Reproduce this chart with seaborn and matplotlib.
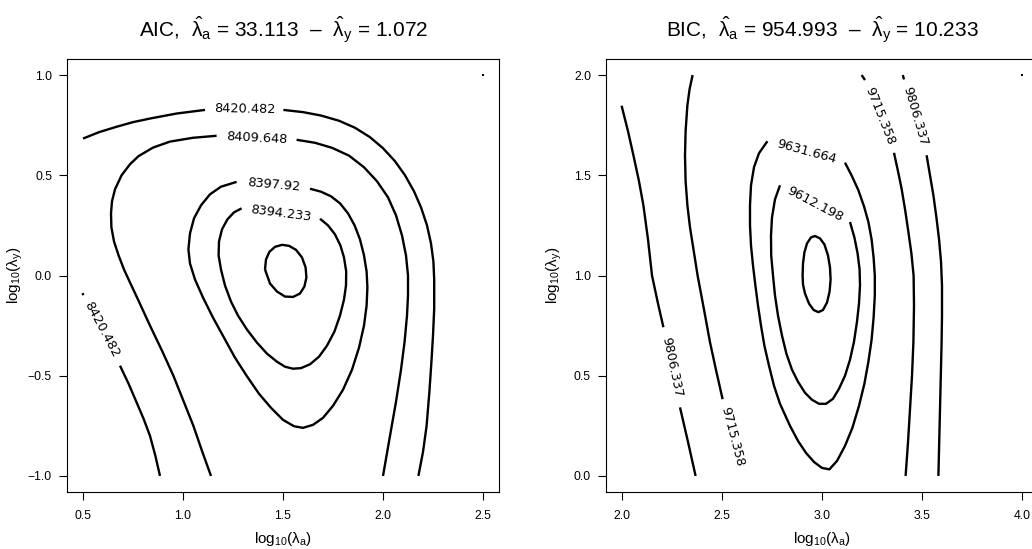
import matplotlib
matplotlib.use("Agg")
import matplotlib.pyplot as plt
import numpy as np
import pandas as pd
import seaborn as sns

# ---------------- data ----------------
# AIC panel: contour pieces, x = log10(lambda_a), y = log10(lambda_y)
aic_inner_x = [1.41, 1.415, 1.432, 1.46, 1.495, 1.53, 1.565, 1.595, 1.613, 1.617, 1.607, 1.585, 1.55,
               1.51, 1.47, 1.435, 1.41]
aic_inner_y = [0.03, 0.08, 0.118, 0.143, 0.153, 0.148, 0.128, 0.09, 0.04, -0.01, -0.055, -0.09, -0.107,
               -0.105, -0.08, -0.04, 0.03]

aic_8394_x = [1.685, 1.725, 1.76, 1.787, 1.805, 1.816, 1.815, 1.805, 1.785, 1.757, 1.72, 1.68, 1.635,
              1.59, 1.55, 1.51, 1.47, 1.42, 1.37, 1.32, 1.275, 1.24, 1.21, 1.19, 1.178, 1.18, 1.195,
              1.222, 1.255, 1.293]
aic_8394_y = [0.283, 0.25, 0.205, 0.15, 0.09, 0.02, -0.05, -0.12, -0.2, -0.28, -0.35, -0.405, -0.443,
              -0.462, -0.465, -0.455, -0.43, -0.39, -0.335, -0.27, -0.2, -0.13, -0.05, 0.03, 0.1, 0.17, 0.23,
              0.28, 0.315, 0.335]

aic_8398_x = [1.635, 1.69, 1.74, 1.785, 1.825, 1.858, 1.885, 1.905, 1.918, 1.922, 1.918, 1.905, 1.88,
              1.845, 1.8, 1.75, 1.7, 1.65, 1.6, 1.555, 1.5, 1.44, 1.38, 1.318, 1.26, 1.205, 1.15, 1.1,
              1.06, 1.035, 1.027, 1.035, 1.055, 1.09, 1.135, 1.19, 1.268]
aic_8398_y = [0.433, 0.418, 0.395, 0.36, 0.31, 0.25, 0.18, 0.1, 0.02, -0.06, -0.15, -0.25, -0.36,
              -0.47, -0.57, -0.65, -0.71, -0.745, -0.76, -0.752, -0.72, -0.66, -0.59, -0.5, -0.41, -0.31,
              -0.21, -0.11, -0.02, 0.06, 0.13, 0.21, 0.285, 0.35, 0.405, 0.443, 0.467]

aic_8410_a_x = [1.14, 1.095, 1.052, 1.0, 0.952, 0.895, 0.835, 0.775, 0.735, 0.705, 0.678, 0.655, 0.642,
                0.64, 0.645, 0.66, 0.693, 0.735, 0.777, 0.85, 0.935, 1.05, 1.168]
aic_8410_a_y = [-1.0, -0.875, -0.75, -0.62, -0.5, -0.375, -0.25, -0.12, -0.035, 0.03, 0.1, 0.17, 0.24,
                0.31, 0.37, 0.43, 0.5, 0.555, 0.595, 0.638, 0.668, 0.687, 0.697]
aic_8410_b_x = [1.568, 1.66, 1.745, 1.83, 1.905, 1.97, 2.025, 2.065, 2.095, 2.115, 2.125, 2.125, 2.12,
                2.108, 2.09, 2.065, 2.035, 2.0]
aic_8410_b_y = [0.677, 0.662, 0.637, 0.598, 0.54, 0.47, 0.39, 0.3, 0.2, 0.1, 0.0, -0.1, -0.2,
                -0.33, -0.47, -0.63, -0.8, -1.0]

aic_8420_top_a_x = [0.50, 0.58, 0.668, 0.75, 0.835, 0.968, 1.11]
aic_8420_top_a_y = [0.683, 0.715, 0.742, 0.765, 0.783, 0.808, 0.826]
aic_8420_top_b_x = [1.502, 1.6, 1.69, 1.78, 1.86, 1.935, 2.0, 2.06, 2.11, 2.155, 2.19, 2.22, 2.24, 2.252,
                    2.256, 2.256, 2.25, 2.243, 2.232, 2.218, 2.2, 2.177]
aic_8420_top_b_y = [0.826, 0.815, 0.798, 0.772, 0.737, 0.69, 0.635, 0.57, 0.5, 0.42, 0.34, 0.25, 0.16, 0.07,
                    -0.02, -0.165, -0.3, -0.417, -0.58, -0.75, -0.88, -1.0]
aic_8420_left_a_x = [0.497, 0.502]
aic_8420_left_a_y = [-0.088, -0.098]
aic_8420_left_b_x = [0.685, 0.728, 0.768, 0.803, 0.835, 0.862, 0.885]
aic_8420_left_b_y = [-0.45, -0.54, -0.633, -0.715, -0.8, -0.9, -1.0]

aic_point_x = [2.5]
aic_point_y = [1.0]

aic_labels = ["8420.482", "8409.648", "8397.92", "8394.233", "8420.482"]

# BIC panel
bic_inner_x = [2.903, 2.905, 2.912, 2.925, 2.945, 2.965, 2.99, 3.012, 3.03, 3.04, 3.043, 3.038, 3.025,
               3.005, 2.982, 2.958, 2.935, 2.915, 2.905, 2.903]
bic_inner_y = [1.0, 1.06, 1.115, 1.16, 1.19, 1.197, 1.185, 1.155, 1.1, 1.04, 0.98, 0.92, 0.865,
               0.828, 0.817, 0.828, 0.86, 0.91, 0.955, 1.0]

bic_9612_x = [3.14, 3.162, 3.178, 3.188, 3.19, 3.185, 3.175, 3.16, 3.14, 3.115, 3.085, 3.055, 3.02, 2.985,
              2.95, 2.915, 2.88, 2.85, 2.822, 2.8, 2.78, 2.765, 2.755, 2.746, 2.745, 2.75, 2.765, 2.79]
bic_9612_y = [1.267, 1.19, 1.11, 1.03, 0.95, 0.86, 0.77, 0.67, 0.58, 0.5, 0.435, 0.385, 0.36, 0.36,
              0.38, 0.415, 0.47, 0.53, 0.61, 0.7, 0.8, 0.9, 1.0, 1.1, 1.2, 1.29, 1.38, 1.45]

bic_9632_x = [3.115, 3.15, 3.182, 3.21, 3.232, 3.248, 3.258, 3.264, 3.264, 3.258, 3.248, 3.232, 3.212,
              3.185, 3.152, 3.115, 3.075, 3.037, 3.0, 2.96, 2.92, 2.88, 2.84, 2.79, 2.76, 2.735, 2.712,
              2.695, 2.68, 2.667, 2.655, 2.645, 2.64, 2.64, 2.645, 2.66, 2.685, 2.727]
bic_9632_y = [1.563, 1.495, 1.425, 1.345, 1.267, 1.18, 1.09, 1.0, 0.9, 0.79, 0.68, 0.57, 0.46,
              0.35, 0.24, 0.15, 0.075, 0.033, 0.04, 0.07, 0.115, 0.175, 0.25, 0.36, 0.45, 0.55, 0.65,
              0.75, 0.85, 0.95, 1.05, 1.15, 1.25, 1.35, 1.45, 1.54, 1.61, 1.67]

bic_9715_left_x = [2.353, 2.338, 2.327, 2.318, 2.315, 2.318, 2.327, 2.34, 2.357, 2.378, 2.41, 2.44, 2.472, 2.503]
bic_9715_left_y = [2.0, 1.93, 1.85, 1.72, 1.60, 1.47, 1.35, 1.24, 1.133, 1.0, 0.83, 0.667, 0.52, 0.383]
bic_9806_left_a_x = [1.998, 2.03, 2.057, 2.085, 2.107, 2.13, 2.15, 2.18, 2.207]
bic_9806_left_a_y = [1.847, 1.72, 1.60, 1.47, 1.35, 1.18, 1.0, 0.86, 0.742]
bic_9806_left_b_x = [2.29, 2.33, 2.368]
bic_9806_left_b_y = [0.342, 0.17, 0.0]

bic_9715_right_a_x = [3.198, 3.215]
bic_9715_right_a_y = [2.0, 1.975]
bic_9715_right_b_x = [3.36, 3.38, 3.398, 3.416, 3.432, 3.447, 3.458, 3.46, 3.457, 3.45, 3.44, 3.43, 3.418]
bic_9715_right_b_y = [1.612, 1.52, 1.433, 1.325, 1.217, 1.11, 1.0, 0.85, 0.667, 0.5, 0.333, 0.167, 0.0]
bic_9806_right_a_x = [3.404, 3.410]
bic_9806_right_a_y = [2.0, 1.978]
bic_9806_right_b_x = [3.523, 3.54, 3.557, 3.572, 3.585, 3.595, 3.60, 3.60, 3.598, 3.594, 3.59, 3.586, 3.582]
bic_9806_right_b_y = [1.60, 1.5, 1.40, 1.29, 1.183, 1.07, 0.95, 0.8, 0.667, 0.5, 0.333, 0.167, 0.0]

bic_point_x = [4.0]
bic_point_y = [2.0]

bic_labels = ["9631.664", "9612.198", "9715.358", "9806.337", "9806.337", "9715.358"]

x_ticks_aic = [0.5, 1.0, 1.5, 2.0, 2.5]
x_ticklabels_aic = ["0.5", "1.0", "1.5", "2.0", "2.5"]
y_ticks_aic = [-1.0, -0.5, 0.0, 0.5, 1.0]
y_ticklabels_aic = ["\u22121.0", "\u22120.5", "0.0", "0.5", "1.0"]
x_ticks_bic = [2.0, 2.5, 3.0, 3.5, 4.0]
x_ticklabels_bic = ["2.0", "2.5", "3.0", "3.5", "4.0"]
y_ticks_bic = [0.0, 0.5, 1.0, 1.5, 2.0]
y_ticklabels_bic = ["0.0", "0.5", "1.0", "1.5", "2.0"]

aic_title = r"AIC,  $\hat{\lambda}_{\mathrm{a}}$ = 33.113  –  $\hat{\lambda}_{\mathrm{y}}$ = 1.072"
bic_title = r"BIC,  $\hat{\lambda}_{\mathrm{a}}$ = 954.993  –  $\hat{\lambda}_{\mathrm{y}}$ = 10.233"
x_label = r"$\mathrm{log}_{10}(\lambda_{\mathrm{a}})$"
y_label = r"$\mathrm{log}_{10}(\lambda_{\mathrm{y}})$"

# ---------------- assemble tables ----------------
def pieces_frame(pieces):
    rows = []
    for pid, (xs, ys) in enumerate(pieces):
        for x, y in zip(xs, ys):
            rows.append({"x": x, "y": y, "piece": pid})
    return pd.DataFrame(rows)

aic_df = pieces_frame([
    (aic_inner_x, aic_inner_y), (aic_8394_x, aic_8394_y), (aic_8398_x, aic_8398_y),
    (aic_8410_a_x, aic_8410_a_y), (aic_8410_b_x, aic_8410_b_y),
    (aic_8420_top_a_x, aic_8420_top_a_y), (aic_8420_top_b_x, aic_8420_top_b_y),
    (aic_8420_left_a_x, aic_8420_left_a_y), (aic_8420_left_b_x, aic_8420_left_b_y),
])
bic_df = pieces_frame([
    (bic_inner_x, bic_inner_y), (bic_9612_x, bic_9612_y), (bic_9632_x, bic_9632_y),
    (bic_9715_left_x, bic_9715_left_y), (bic_9806_left_a_x, bic_9806_left_a_y),
    (bic_9806_left_b_x, bic_9806_left_b_y), (bic_9715_right_a_x, bic_9715_right_a_y),
    (bic_9715_right_b_x, bic_9715_right_b_y), (bic_9806_right_a_x, bic_9806_right_a_y),
    (bic_9806_right_b_x, bic_9806_right_b_y),
])

# label placement (annotation positions / angles)
aic_label_pos = [(1.31, 0.829, -1), (1.368, 0.687, -3), (1.452, 0.45, -5), (1.489, 0.308, -7.3),
                 (0.592, -0.27, -62)]
bic_label_pos = [(2.921, 1.617, -15.3), (2.965, 1.358, -27.7), (3.288, 1.793, -68.2), (3.467, 1.795, -73.8),
                 (2.248, 0.542, -78.3), (2.551, 0.195, -75.4)]

# ---------------- style ----------------
sns.set_theme(style="ticks")
plt.rcParams["font.family"] = ["Liberation Sans", "DejaVu Sans"]
plt.rcParams.update({
    "mathtext.fontset": "custom",
    "mathtext.rm": "Liberation Sans",
    "mathtext.it": "Liberation Sans",
    "mathtext.bf": "Liberation Sans:bold",
    "axes.edgecolor": "black",
    "axes.linewidth": 0.8,
    "xtick.color": "black",
    "ytick.color": "black",
    "text.color": "black",
    "axes.labelcolor": "black",
})

fig = plt.figure(figsize=(10.32, 5.49), dpi=100)
fig.patch.set_facecolor("white")
ax1 = fig.add_axes([67 / 1032, 57 / 549, 432 / 1032, 433 / 549])
ax2 = fig.add_axes([606 / 1032, 57 / 549, 432 / 1032, 433 / 549])

panels = [
    (ax1, aic_df, aic_labels, aic_label_pos, aic_point_x, aic_point_y, (0.42, 2.58), (-1.08, 1.08),
     x_ticks_aic, x_ticklabels_aic, y_ticks_aic, y_ticklabels_aic, aic_title),
    (ax2, bic_df, bic_labels, bic_label_pos, bic_point_x, bic_point_y, (1.92, 4.08), (-0.08, 2.08),
     x_ticks_bic, x_ticklabels_bic, y_ticks_bic, y_ticklabels_bic, bic_title),
]

for (ax, df, labels, lpos, px, py, xl, yl, xt, xtl, yt, ytl, title) in panels:
    ax.set_facecolor("white")
    sns.lineplot(data=df, x="x", y="y", units="piece", estimator=None, sort=False,
                 color="black", linewidth=1.7, ax=ax, legend=False)
    for line in ax.lines:
        line.set_solid_joinstyle("round")
        line.set_solid_capstyle("butt")
    sns.scatterplot(x=px, y=py, ax=ax, color="black", s=3, marker="s", linewidth=0, legend=False)
    for text, (lx, ly, rot) in zip(labels, lpos):
        ax.text(lx, ly, text, rotation=rot, rotation_mode="anchor", ha="center", va="center",
                fontsize=9.3, family="DejaVu Sans", color="black")
    ax.set_xlim(*xl)
    ax.set_ylim(*yl)
    ax.set_xticks(xt)
    ax.set_xticklabels(xtl)
    ax.set_yticks(yt)
    ax.set_yticklabels(ytl)
    ax.tick_params(axis="both", direction="out", length=5.8, width=0.8, labelsize=8.8)
    ax.tick_params(axis="x", pad=7)
    ax.tick_params(axis="y", pad=5)
    for s in ax.spines.values():
        s.set_visible(True)
        s.set_color("black")
        s.set_linewidth(0.8)
    ax.set_xlabel(x_label, fontsize=11, labelpad=6)
    ax.set_ylabel(y_label, fontsize=11)
    ax.yaxis.set_label_coords(-0.098, 0.5)
    ax.set_title(title, fontsize=15, pad=15)
    ax.grid(False)

fig.savefig("out.png", dpi=100, facecolor="white")
